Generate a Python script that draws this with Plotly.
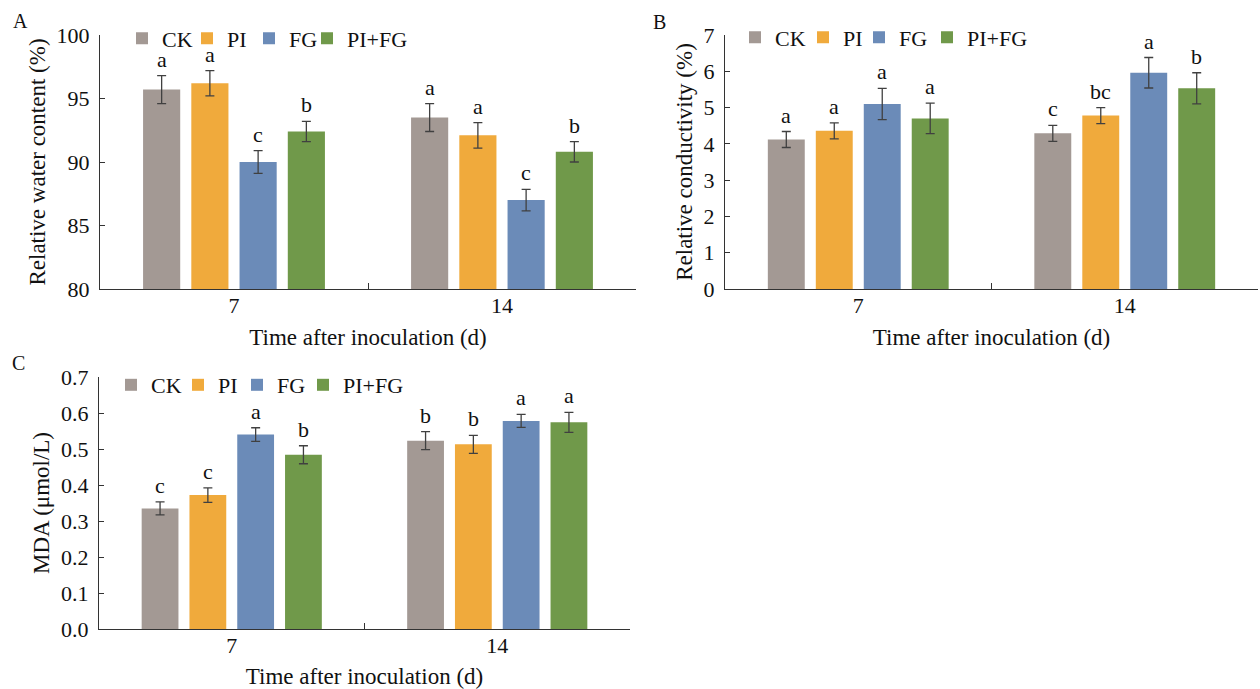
import plotly.graph_objects as go

days = ["7", "14"]
treatments = ["CK", "PI", "FG", "PI+FG"]
colors = ["#A39994", "#F0AA3C", "#6B8BB8", "#70994A"]

# Panel A: relative water content (%), rows = treatments, cols = days
rwc_mean = [[95.7, 93.5], [96.2, 92.1], [90.0, 87.0], [92.4, 90.8]]
rwc_err = [[1.1, 1.1], [1.0, 1.0], [0.9, 0.85], [0.8, 0.8]]
rwc_letters = [["a", "a"], ["a", "a"], ["c", "c"], ["b", "b"]]

# Panel B: relative conductivity (%)
rc_mean = [[4.12, 4.29], [4.36, 4.78], [5.10, 5.96], [4.70, 5.53]]
rc_err = [[0.22, 0.22], [0.22, 0.22], [0.43, 0.42], [0.42, 0.43]]
rc_letters = [["a", "c"], ["a", "bc"], ["a", "a"], ["a", "b"]]

# Panel C: MDA (umol/L)
mda_mean = [[0.335, 0.523], [0.372, 0.513], [0.540, 0.578], [0.484, 0.574]]
mda_err = [[0.018, 0.025], [0.020, 0.025], [0.019, 0.018], [0.025, 0.028]]
mda_letters = [["c", "b"], ["c", "b"], ["a", "a"], ["b", "a"]]

W, H = 1260, 689
FONT = "Liberation Serif, Times New Roman, serif"
AX = "#333333"
TXT = "#111111"
BARGAP = 0.28
GROUPGAP = 0.23

panels = [
    dict(key="", mean=rwc_mean, err=rwc_err, letters=rwc_letters, legend="legend",
         xdom=(100, 636), ydom=(35, 289), yrange=[80, 100], dtick=5, fmt="",
         ytitle="Relative water content (%)", label="A", lab_xy=(20, 21),
         leg_xy=(122, 38.5), leg_w=[20, 17, 13, 80]),
    dict(key="2", mean=rc_mean, err=rc_err, letters=rc_letters, legend="legend2",
         xdom=(725, 1258), ydom=(35, 289), yrange=[0, 7], dtick=1, fmt="",
         ytitle="Relative conductivity (%)", label="B", lab_xy=(659, 22),
         leg_xy=(735, 37.5), leg_w=[23, 11, 23, 80]),
    dict(key="3", mean=mda_mean, err=mda_err, letters=mda_letters, legend="legend3",
         xdom=(99, 630), ydom=(377, 629), yrange=[0, 0.7], dtick=0.1, fmt=".1f",
         ytitle="MDA (μmol/L)", label="C", lab_xy=(18, 363),
         leg_xy=(111, 385), leg_w=[22, 14, 21, 80]),
]

fig = go.Figure()
annotations = []
layout = {}

for p in panels:
    xa = "x" + p["key"]
    ya = "y" + p["key"]
    for i, t in enumerate(treatments):
        fig.add_trace(go.Bar(
            x=days, y=p["mean"][i], name=t, xaxis=xa, yaxis=ya,
            marker=dict(color=colors[i], line=dict(width=0)),
            error_y=dict(type="data", array=p["err"][i], color="#404040",
                         thickness=1.3, width=4.5),
            legend=p["legend"], showlegend=True, legendwidth=p["leg_w"][i],
        ))
        slot = (1 - BARGAP) / len(treatments)
        for j, d in enumerate(days):
            annotations.append(dict(
                x=j + (i - 1.5) * slot, y=p["mean"][i][j] + p["err"][i][j],
                xref=xa, yref=ya, text=p["letters"][i][j], showarrow=False,
                yanchor="bottom", yshift=2,
                font=dict(family=FONT, size=22, color=TXT),
            ))
    x0, x1 = p["xdom"]
    y0, y1 = p["ydom"]
    layout["xaxis" + p["key"]] = dict(
        domain=[x0 / W, x1 / W], anchor=ya, type="category",
        showline=True, linecolor=AX, linewidth=1.3, mirror=False,
        ticks="inside", tickson="boundaries", ticklen=6, tickcolor=AX, tickwidth=1.3,
        showgrid=False, zeroline=False, ticklabelstandoff=-4,
        tickfont=dict(family=FONT, size=22, color=TXT),
        title=dict(text="Time after inoculation (d)", standoff=12,
                   font=dict(family=FONT, size=23, color=TXT)),
    )
    layout["yaxis" + p["key"]] = dict(
        domain=[1 - y1 / H, 1 - y0 / H], anchor=xa, range=p["yrange"],
        dtick=p["dtick"], tick0=0, tickformat=p["fmt"],
        showline=True, linecolor=AX, linewidth=1.3,
        ticks="inside", ticklen=5, tickcolor=AX, tickwidth=1.3,
        showgrid=False, zeroline=False, ticklabelstandoff=5,
        tickfont=dict(family=FONT, size=22, color=TXT),
        title=dict(text=p["ytitle"], standoff=4,
                   font=dict(family=FONT, size=23, color=TXT)),
    )
    lx, ly = p["leg_xy"]
    layout[p["legend"]] = dict(
        orientation="h", x=lx / W, y=1 - ly / H, xanchor="left", yanchor="middle",
        xref="paper", yref="paper", bgcolor="rgba(0,0,0,0)", borderwidth=0,
        font=dict(family=FONT, size=22, color=TXT),
        itemclick=False, itemdoubleclick=False,
    )
    annotations.append(dict(
        x=p["lab_xy"][0] / W, y=1 - p["lab_xy"][1] / H, xref="paper", yref="paper",
        text=p["label"], showarrow=False, xanchor="center", yanchor="middle",
        font=dict(family=FONT, size=20, color=TXT),
    ))

fig.update_layout(
    width=W, height=H, autosize=False,
    margin=dict(l=0, r=0, t=0, b=0, pad=0, autoexpand=False),
    paper_bgcolor="white", plot_bgcolor="white",
    barmode="group", bargap=BARGAP, bargroupgap=GROUPGAP,
    annotations=annotations, font=dict(family=FONT, size=22, color=TXT),
    hovermode=False,
    **layout,
)

fig.write_html(
    "out.html",
    config={"displayModeBar": False, "staticPlot": False},
    post_script="document.body.style.margin='0';document.body.style.padding='0';"
                "document.body.style.overflow='hidden';",
)
